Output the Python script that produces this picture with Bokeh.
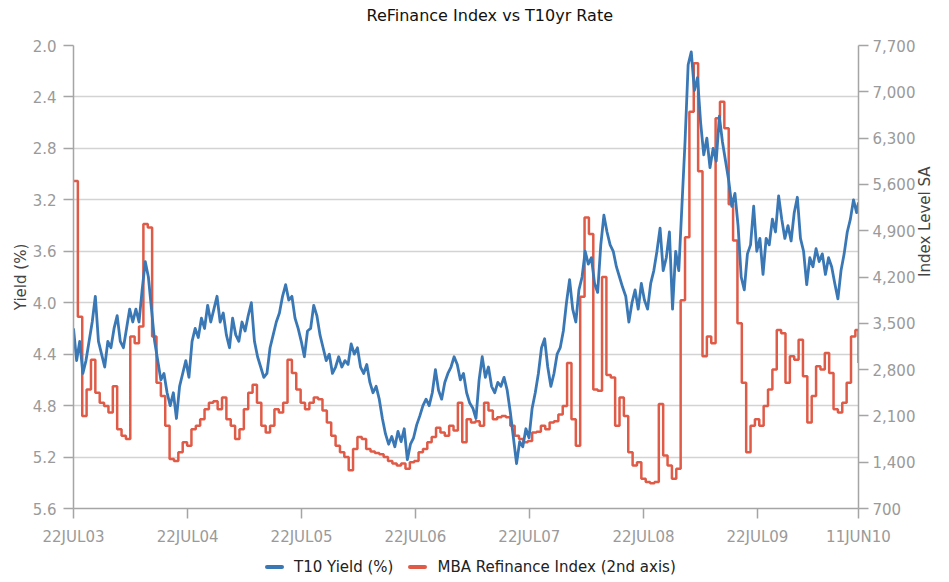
import math
import pandas as pd
from bokeh.plotting import figure
from bokeh.layouts import column
from bokeh.models import (Range1d, LinearAxis, FixedTicker, NumeralTickFormatter, Title, Div)
from bokeh.embed import file_html
from bokeh.resources import INLINE

start_date = "2003-07-22"
end_date = "2010-06-11"

tick_dates = ["2003-07-22", "2004-07-22", "2005-07-22", "2006-07-22",
              "2007-07-22", "2008-07-22", "2009-07-22", "2010-06-11"]
tick_labels = ["22JUL03", "22JUL04", "22JUL05", "22JUL06",
               "22JUL07", "22JUL08", "22JUL09", "11JUN10"]

yield_ticks = [2.0, 2.4, 2.8, 3.2, 3.6, 4.0, 4.4, 4.8, 5.2, 5.6]
index_ticks = [700, 1400, 2100, 2800, 3500, 4200, 4900, 5600, 6300, 7000, 7700]

series_names = ["T10 Yield (%)", "MBA Refinance Index (2nd axis)"]

# T10 yield (%), sampled every 10 days, last value on 11JUN10
t10_yield = [
    4.20, 4.45, 4.30, 4.55, 4.45, 4.30, 4.15, 3.95, 4.30, 4.40, 4.50, 4.30, 4.35, 4.20, 4.10, 4.30,
    4.35, 4.20, 4.05, 4.15, 4.05, 4.15, 3.90, 3.68, 3.80, 4.05, 4.30, 4.45, 4.60, 4.55, 4.70,
    4.80, 4.70, 4.90, 4.65, 4.55, 4.45, 4.58, 4.30, 4.20, 4.27, 4.12, 4.20, 4.02, 4.15, 4.05, 3.95,
    4.15, 4.08, 4.25, 4.35, 4.12, 4.25, 4.30, 4.15, 4.22, 4.10, 4.00, 4.30, 4.42, 4.50, 4.58,
    4.55, 4.35, 4.25, 4.15, 4.08, 3.95, 3.86, 3.98, 3.95, 4.12, 4.20, 4.30, 4.42, 4.22, 4.20, 4.02,
    4.10, 4.25, 4.35, 4.45, 4.40, 4.55, 4.50, 4.42, 4.50, 4.45, 4.48, 4.32, 4.40, 4.35,
    4.50, 4.55, 4.48, 4.62, 4.70, 4.65, 4.75, 4.90, 5.02, 5.10, 5.04, 5.12, 5.00, 5.08, 4.98, 5.22,
    5.10, 5.05, 4.95, 4.88, 4.80, 4.75, 4.80, 4.70, 4.52, 4.68, 4.75, 4.62, 4.55,
    4.50, 4.42, 4.48, 4.60, 4.55, 4.70, 4.78, 4.82, 4.90, 4.60, 4.42, 4.58, 4.50, 4.65, 4.70, 4.62,
    4.65, 4.58, 4.68, 4.85, 5.05, 5.25, 5.08, 5.12, 4.98, 5.05, 4.82, 4.70, 4.55, 4.35, 4.28, 4.50,
    4.65, 4.55, 4.40, 4.35, 4.22, 4.00, 3.82, 4.05, 4.15, 3.90, 3.80, 3.60, 3.70, 3.65, 3.85, 3.92,
    3.55, 3.32, 3.45, 3.55, 3.60, 3.72, 3.80, 3.88, 3.95, 4.15, 4.00, 3.90, 4.05, 3.85, 3.98,
    4.05, 3.85, 3.75, 3.60, 3.42, 3.75, 3.65, 3.45, 4.05, 3.60, 3.75, 3.25, 2.75, 2.15, 2.05, 2.35,
    2.25, 2.60, 2.85, 2.72, 2.95, 2.80, 2.90, 2.55, 2.75, 2.90, 3.05, 3.25, 3.15, 3.40,
    3.80, 3.90, 3.62, 3.55, 3.25, 3.60, 3.50, 3.78, 3.50, 3.55, 3.35, 3.45, 3.17, 3.35, 3.50, 3.40,
    3.52, 3.30, 3.18, 3.50, 3.60, 3.86, 3.65, 3.72, 3.58, 3.68, 3.62, 3.78, 3.65, 3.72, 3.85, 3.97,
    3.75, 3.62, 3.45, 3.35, 3.20, 3.30,
    3.22,
]

# MBA Refinance Index, sampled every 14 days, last value on 11JUN10
refi_index = [
    5650, 3600, 2100, 2500, 2950, 2450, 2300, 2250, 2150, 2550, 1900, 1800, 1750, 3300, 3200, 3450,
    5000, 4950, 3300, 2600, 2400, 1950,
    1450, 1420, 1550, 1700, 1650, 1900, 1950, 2050, 2200, 2300, 2320, 2200, 2380, 2050, 1950, 1750,
    1900, 2200, 2450, 2570, 2300, 1950,
    1850, 1950, 2200, 2150, 2300, 2950, 2750, 2500, 2300, 2200, 2300, 2380, 2350, 2180, 2000, 1800,
    1650, 1550, 1480, 1280, 1600, 1780,
    1750, 1600, 1560, 1540, 1520, 1480, 1420, 1380, 1350, 1380, 1300, 1400, 1420, 1550, 1600, 1700,
    1780, 1920, 1850, 1800, 1950,
    1880, 2300, 1700, 2050, 2000, 2020, 1950, 2300, 2180, 2050, 2080, 2100, 2080, 1950, 1800, 1750,
    1700, 1720, 1850, 1860, 1950,
    1900, 2000, 2020, 2120, 2250, 2900, 2050, 1650, 3900, 5100, 4850, 2500, 2480, 4200, 2720, 2680,
    1950, 2380, 2100, 1550, 1350, 1400, 1150,
    1100, 1080, 1100, 2280, 1500, 1350, 1150, 1300, 3850, 4800, 6700, 7430, 5800, 3000, 3300, 3200,
    6600, 6850, 6450, 5300, 4750,
    3500, 2600, 1550, 1950, 2050, 1950, 2250, 2500, 2800, 3400, 3350, 2600, 3000, 2950, 3250, 2700,
    2000, 2400, 2850, 2800, 3050, 2750, 2200, 2150, 2300, 2600, 3300, 3400,
    2900,
]

start = pd.Timestamp(start_date)
end = pd.Timestamp(end_date)
t10_dates = list(pd.date_range(start, periods=len(t10_yield) - 1, freq="10D")) + [end]
refi_dates = list(pd.date_range(start, periods=len(refi_index) - 1, freq="14D")) + [end]
t10_x = [(d - start).days for d in t10_dates]
refi_x = [(d - start).days for d in refi_dates]
tick_x = [(pd.Timestamp(d) - start).days for d in tick_dates]

BLUE = "#3a77b5"
RED = "#e05b47"
FONT = "DejaVu Sans"

p = figure(
    frame_width=785, frame_height=463,
    output_backend="svg", toolbar_location=None,
    x_range=Range1d(tick_x[0], tick_x[-1]),
    y_range=Range1d(yield_ticks[-1], yield_ticks[0]),
    title="ReFinance Index vs T10yr Rate",
)
p.margin = (0, 0, 0, 8)
p.extra_y_ranges = {"refi": Range1d(index_ticks[0], index_ticks[-1])}

p.title.align = "left"
p.title.offset = 293
p.title.text_font = FONT
p.title.text_font_size = "16px"
p.title.text_font_style = "normal"
p.title.text_color = "#111111"
p.title.standoff = 6

# empty spacer title that reserves room between the title and the frame
p.add_layout(Title(text=" ", text_font_size="2px", standoff=14), "above")

p.outline_line_color = None
p.background_fill_color = "white"
p.border_fill_color = "white"

p.xgrid.visible = False
p.ygrid.grid_line_color = "#d3d3d3"
p.ygrid.grid_line_width = 1.5

p.xaxis.ticker = FixedTicker(ticks=tick_x)
p.xaxis.major_label_overrides = {t: lab for t, lab in zip(tick_x, tick_labels)}
p.yaxis.ticker = FixedTicker(ticks=yield_ticks)
p.yaxis.formatter = NumeralTickFormatter(format="0.0")
p.yaxis.axis_label = "Yield (%)"

right = LinearAxis(y_range_name="refi", axis_label="Index Level SA",
                   ticker=FixedTicker(ticks=index_ticks),
                   formatter=NumeralTickFormatter(format="0,0"))
p.add_layout(right, "right")
try:
    right.axis_label_orientation = math.pi / 2
except Exception:
    pass

for ax in [p.xaxis[0], p.yaxis[0], right]:
    ax.axis_line_color = "#a5a5a5"
    ax.axis_line_width = 1.5
    ax.major_tick_line_color = "#a5a5a5"
    ax.major_tick_line_width = 1.5
    ax.major_tick_out = 10
    ax.major_tick_in = 0
    ax.minor_tick_line_color = None
    ax.major_label_text_color = "#9a9a9a"
    ax.major_label_text_font = FONT
    ax.major_label_text_font_size = "15px"
    ax.axis_label_text_font = FONT
    ax.axis_label_text_font_size = "15px"
    ax.axis_label_text_font_style = "normal"
    ax.axis_label_text_color = "#444444"

p.xaxis.major_label_standoff = 9
p.yaxis.major_label_standoff = 7
p.yaxis.axis_label_standoff = 0
right.major_label_standoff = 4
right.axis_label_standoff = 7

p.step(refi_x, refi_index, mode="after", y_range_name="refi",
       line_color=RED, line_width=2.5)
p.line(t10_x, t10_yield, line_color=BLUE, line_width=2.8, line_join="round")

# legend row under the chart
def swatch(color, left_gap):
    return ('<span style="display:inline-block;width:19px;height:4px;border-radius:2px;'
            'background:%s;vertical-align:middle;margin-left:%dpx"></span>' % (color, left_gap))

legend_html = (
    '<div style="font-family:\'DejaVu Sans\';font-size:15px;color:#222222;'
    'white-space:nowrap;line-height:20px">'
    + swatch(BLUE, 0)
    + '<span style="margin-left:10px;vertical-align:middle">%s</span>' % series_names[0]
    + swatch(RED, 15)
    + '<span style="margin-left:10px;vertical-align:middle">%s</span>' % series_names[1]
    + '</div>'
)
legend_div = Div(text=legend_html, width=460, height=20)
legend_div.margin = (8, 0, 0, 265)

layout = column(p, legend_div)

open("out.html", "w").write(file_html(layout, INLINE))
